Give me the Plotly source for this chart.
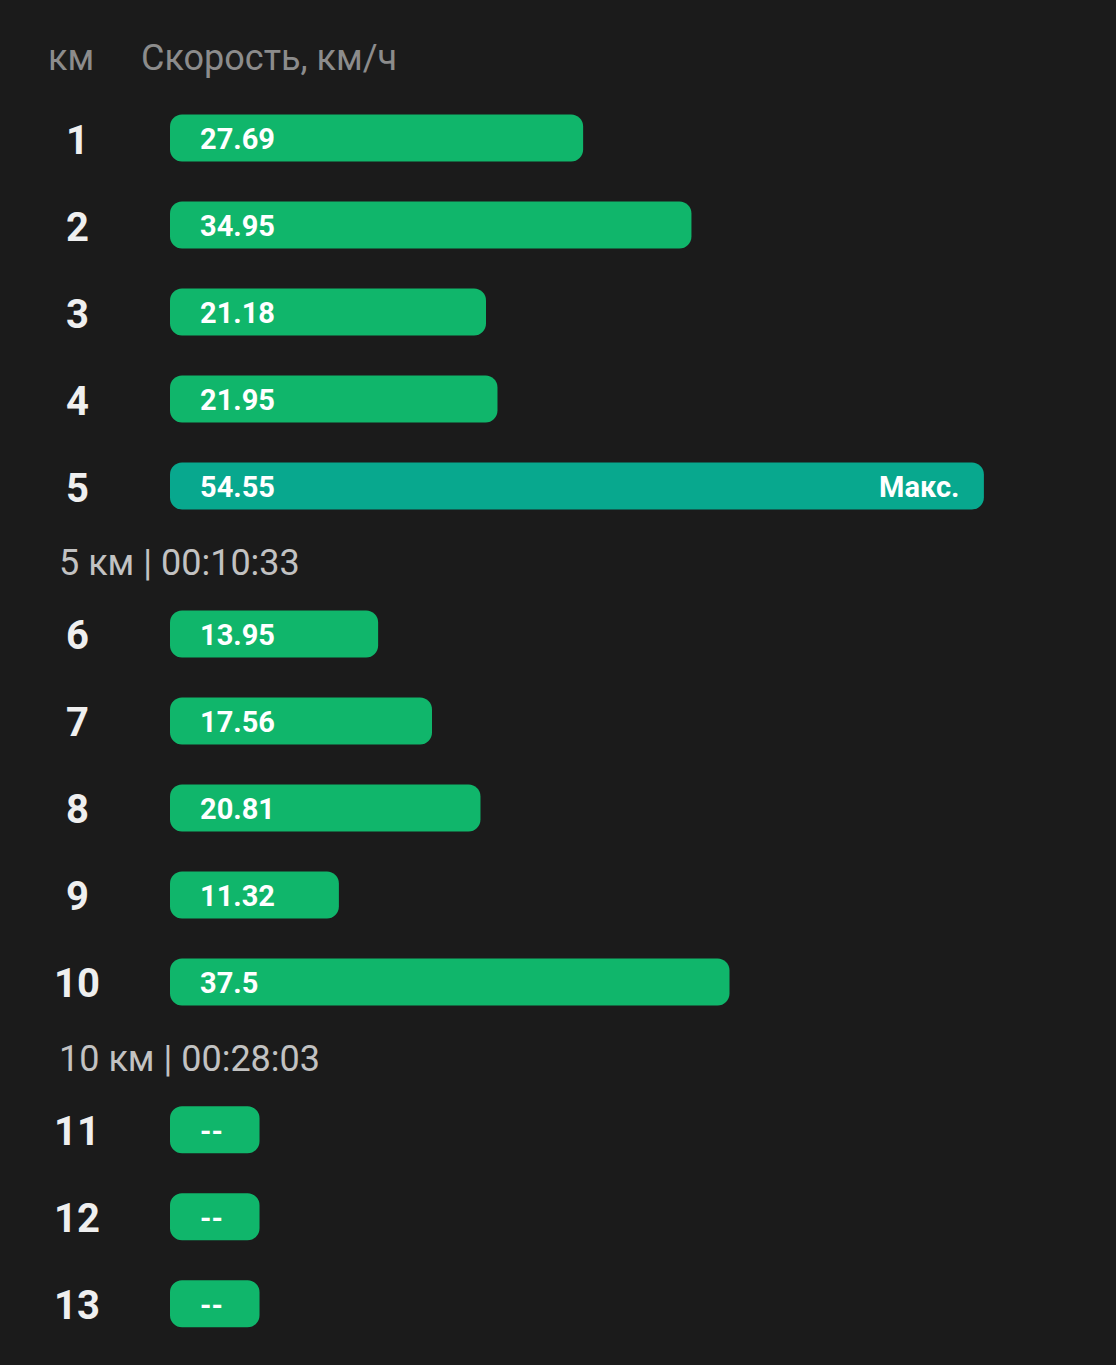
import plotly.graph_objects as go

# data
km = list(range(1, 14))
speed = [27.69, 34.95, 21.18, 21.95, 54.55, 13.95, 17.56, 20.81, 11.32, 37.5, None, None, None]
split_after = [5, 10]
split_labels = ["5 км | 00:10:33", "10 км | 00:28:03"]
max_label = "Макс."
empty_text = "--"
empty_len = 6.0  # stub bar length for km without data

BG = "#1b1b1b"
GREEN = "#10b66b"
TEAL = "#08a88e"

# row positions: one unit per row, plus a gap after each split label
GAP = 0.70
ypos = []
extra = 0.0
for k in km:
    ypos.append(k - 1 + extra)
    if k in split_after:
        extra += GAP
split_y = [ypos[k - 1] + 0.885 for k in split_after]

vmax = max(v for v in speed if v is not None)
lengths = [v if v is not None else empty_len for v in speed]
colors = [TEAL if v == vmax else GREEN for v in speed]
labels = [f"{v:g}" if v is not None else empty_text for v in speed]

fig = go.Figure()
# an explicit base makes plotly round both ends of the bar
fig.add_trace(go.Bar(
    x=lengths, base=[0] * len(km), y=ypos, orientation="h", width=0.54,
    marker=dict(color=colors, line=dict(width=0)), hoverinfo="skip",
))

ann = []
for y, k, lab, v in zip(ypos, km, labels, speed):
    # km number on the left
    ann.append(dict(x=-6.23, y=y, yshift=-2, text=f"<b>{k}</b>", showarrow=False,
                    xanchor="center", yanchor="middle",
                    font=dict(size=40, color="#efefef", family="Roboto")))
    # value inside the bar
    ann.append(dict(x=0, y=y, xshift=28, yshift=-1, text=f"<b>{lab}</b>",
                    showarrow=False, xanchor="left", yanchor="middle",
                    font=dict(size=29, color="#ffffff", family="Roboto")))
    if v == vmax:
        ann.append(dict(x=v, y=y, xshift=-22, yshift=-1, text=f"<b>{max_label}</b>",
                        showarrow=False, xanchor="right", yanchor="middle",
                        font=dict(size=29, color="#ffffff", family="Roboto")))

for y, t in zip(split_y, split_labels):
    ann.append(dict(x=-7.6, y=y, text=t, showarrow=False, xanchor="left",
                    yanchor="middle", font=dict(size=36, color="#c2c2c2", family="Roboto")))

# header
ann.append(dict(x=46 / 1116, y=1 - 58 / 1365, xref="paper", yref="paper", text="км",
                showarrow=False, xanchor="left", yanchor="middle",
                font=dict(size=36, color="#8c8c8c", family="Roboto")))
ann.append(dict(x=139 / 1116, y=1 - 58 / 1365, xref="paper", yref="paper",
                text="Скорость, км/ч", showarrow=False, xanchor="left", yanchor="middle",
                font=dict(size=36, color="#8c8c8c", family="Roboto")))

px_per_unit = 14.92
fig.update_layout(
    width=1116, height=1365,
    margin=dict(l=0, r=0, t=0, b=0),
    paper_bgcolor=BG, plot_bgcolor=BG,
    barcornerradius=12,
    showlegend=False,
    annotations=ann,
    xaxis=dict(range=[-170 / px_per_unit, (1116 - 170) / px_per_unit],
               visible=False, fixedrange=True),
    yaxis=dict(range=[(1365 - 138) / 87, -138 / 87],
               visible=False, fixedrange=True),
)

fig.write_html("out.html", config={"displayModeBar": False},
               post_script="document.body.style.margin='0';"
               "document.body.style.background='#1b1b1b';")
